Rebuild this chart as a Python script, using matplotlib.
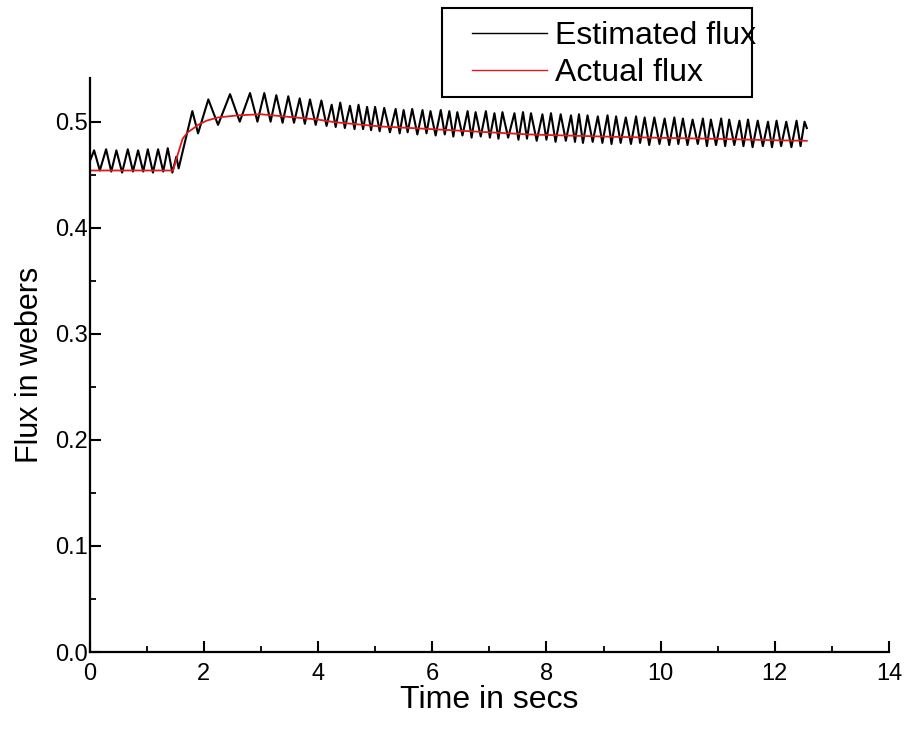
import numpy as np
import matplotlib
matplotlib.use("Agg")
import matplotlib.pyplot as plt
from matplotlib.ticker import MultipleLocator
from matplotlib.patches import Rectangle

plt.rcParams['font.family'] = ['Liberation Sans', 'DejaVu Sans']

# actual flux (smooth red curve)
act_time = [0.0, 1.46, 1.55, 1.63, 1.72, 1.80, 1.90, 2.05, 2.25, 2.60, 3.00, 3.40,
            4.00, 4.30, 5.00, 5.10, 6.00, 7.00, 7.70, 8.00, 9.00, 10.00, 10.30,
            11.00, 12.00, 12.56]
act_flux = [0.454, 0.454, 0.470, 0.484, 0.490, 0.493, 0.497, 0.501, 0.504, 0.506,
            0.507, 0.505, 0.502, 0.4995, 0.496, 0.4955, 0.493, 0.490, 0.488, 0.4875,
            0.486, 0.4848, 0.4845, 0.4838, 0.4825, 0.482]

# estimated flux, peaks and troughs
est_time = [0.00, 0.08, 0.18, 0.29, 0.38, 0.47, 0.57, 0.67, 0.76, 0.85, 0.94, 1.02,
            1.11, 1.20, 1.29, 1.37, 1.45, 1.52, 1.56,
            1.80, 1.90, 2.08, 2.25, 2.46, 2.63, 2.81, 2.94, 3.06, 3.17, 3.27, 3.38,
            3.48, 3.58, 3.68, 3.77, 3.86, 3.96, 4.06, 4.15, 4.24, 4.31, 4.39, 4.47,
            4.56, 4.64, 4.71, 4.79, 4.86, 4.93, 5.00, 5.08, 5.16,
            5.26, 5.36, 5.43, 5.50, 5.57, 5.65, 5.74, 5.83, 5.90, 5.97, 6.06, 6.15,
            6.22, 6.30, 6.37, 6.44, 6.53, 6.62, 6.69, 6.76, 6.85, 6.94, 7.01, 7.09,
            7.16, 7.23, 7.33, 7.44, 7.51, 7.59, 7.66, 7.73,
            7.83, 7.93, 8.00, 8.08, 8.16, 8.25, 8.34, 8.43, 8.50, 8.57, 8.64, 8.72,
            8.81, 8.90, 8.98, 9.07, 9.14, 9.22, 9.30, 9.39, 9.48, 9.57, 9.64, 9.72,
            9.80, 9.89, 9.98, 10.07, 10.15, 10.24,
            10.31, 10.39, 10.47, 10.56, 10.65, 10.74, 10.81, 10.88, 10.97, 11.06,
            11.13, 11.20, 11.29, 11.38, 11.45, 11.53, 11.61, 11.70, 11.79, 11.88,
            11.95, 12.03, 12.11, 12.20, 12.29, 12.38, 12.45, 12.52, 12.56]
est_flux = [0.462, 0.473, 0.454, 0.474, 0.453, 0.473, 0.452, 0.474, 0.453, 0.473, 0.453, 0.474,
            0.452, 0.474, 0.453, 0.475, 0.452, 0.467, 0.456,
            0.510, 0.489, 0.521, 0.497, 0.526, 0.500, 0.527, 0.500, 0.527, 0.500, 0.525, 0.499,
            0.524, 0.499, 0.522, 0.498, 0.521, 0.497, 0.520, 0.496, 0.516, 0.495, 0.518, 0.494,
            0.515, 0.493, 0.516, 0.493, 0.514, 0.492, 0.514, 0.491, 0.513,
            0.490, 0.512, 0.489, 0.511, 0.490, 0.512, 0.488, 0.511, 0.489, 0.510, 0.487, 0.511,
            0.488, 0.510, 0.486, 0.509, 0.487, 0.510, 0.485, 0.509, 0.486, 0.510, 0.485, 0.508,
            0.484, 0.509, 0.485, 0.508, 0.483, 0.509, 0.484, 0.508,
            0.482, 0.507, 0.483, 0.508, 0.481, 0.507, 0.482, 0.506, 0.481, 0.507, 0.480, 0.506,
            0.481, 0.505, 0.480, 0.506, 0.479, 0.505, 0.480, 0.504, 0.479, 0.505, 0.480, 0.504,
            0.478, 0.504, 0.479, 0.503, 0.478, 0.504,
            0.479, 0.503, 0.478, 0.502, 0.479, 0.503, 0.477, 0.502, 0.478, 0.503,
            0.477, 0.502, 0.478, 0.501, 0.477, 0.502, 0.476, 0.501, 0.477, 0.500,
            0.476, 0.501, 0.477, 0.500, 0.476, 0.501, 0.477, 0.500, 0.494]

fig = plt.figure(figsize=(9.1, 7.31), dpi=100)
ax = fig.add_axes([0.0984, 0.108, 0.8786, 0.785])

est_line, = ax.plot(est_time, est_flux, color='black', lw=1.5)
act_line, = ax.plot(act_time, act_flux, color='#e01a1a', lw=1.3)

ax.set_xlim(0, 14)
ax.set_ylim(0, 0.541)
ax.xaxis.set_major_locator(MultipleLocator(2))
ax.xaxis.set_minor_locator(MultipleLocator(1))
ax.yaxis.set_major_locator(MultipleLocator(0.1))
ax.yaxis.set_minor_locator(MultipleLocator(0.05))
ax.xaxis.set_major_formatter(plt.FuncFormatter(lambda v, p: '%d' % v))
ax.yaxis.set_major_formatter(plt.FuncFormatter(lambda v, p: '%.1f' % v))

for s in ['top', 'right']:
    ax.spines[s].set_visible(False)
for s in ['left', 'bottom']:
    ax.spines[s].set_linewidth(1.6)

ax.tick_params(axis='both', which='major', direction='in', length=8, width=1.5,
               labelsize=17)
ax.tick_params(axis='both', which='minor', direction='in', length=4, width=1.3)
ax.tick_params(axis='x', which='major', pad=8)
ax.tick_params(axis='y', which='major', pad=1)

ax.set_xlabel('Time in secs', fontsize=23)
ax.set_ylabel('Flux in webers', fontsize=22)
ax.xaxis.set_label_coords(0.5, -0.057)
ax.yaxis.set_label_coords(-0.056, 0.5)

# legend box drawn separately so the text can run up to its right edge
leg = fig.legend([est_line, act_line], ['Estimated flux', 'Actual flux'],
                 loc='upper left', bbox_to_anchor=(0.5187, 0.971),
                 fontsize=23, frameon=False, borderpad=0,
                 handlelength=2.35, handletextpad=0.25, labelspacing=0.22,
                 borderaxespad=0)
for h in leg.get_lines():
    h.set_linewidth(1.0)
fig.patches.append(Rectangle((0.4857, 0.8673), 0.3407, 0.1218, transform=fig.transFigure,
                             fill=False, edgecolor='black', lw=1.5))

fig.savefig('out.png', dpi=100)
